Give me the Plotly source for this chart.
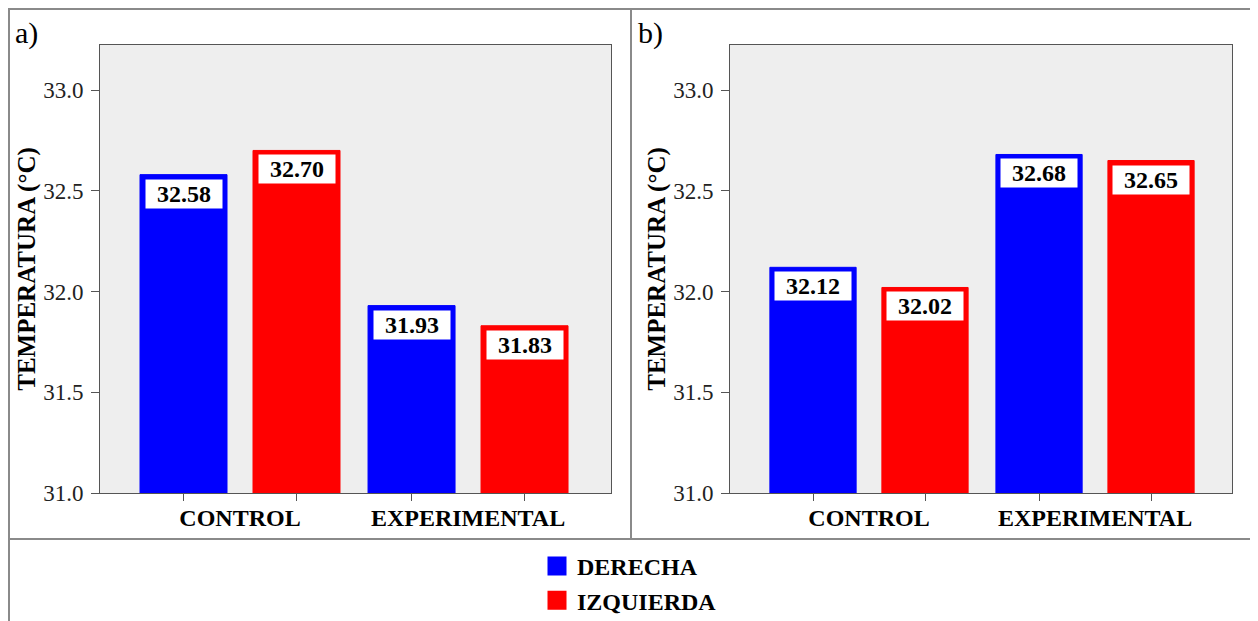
import plotly.graph_objects as go

# ---------------- data ----------------
categories = ["CONTROL", "EXPERIMENTAL"]
series_names = ["DERECHA", "IZQUIERDA"]
series_colors = ["#0000ff", "#ff0000"]
panel_a = {"DERECHA": [32.58, 31.93], "IZQUIERDA": [32.70, 31.83]}
panel_b = {"DERECHA": [32.12, 32.68], "IZQUIERDA": [32.02, 32.65]}
panel_letters = ["a)", "b)"]
y_ticks = [31.0, 31.5, 32.0, 32.5, 33.0]
y_title = "TEMPERATURA (°C)"

# page body has an 8px margin: design in window pixels, shift by OFF
OFF = 8
W, H = 1258 - OFF, 660
FONT = "Liberation Serif"
BARGAP = 0.009
BARGROUPGAP = 0.23

def px_x(p):
    return (p - OFF) / W

def px_y(p):
    return 1 - (p - OFF) / H

fig = go.Figure()

panels = [panel_a, panel_b]
xaxes = ["x", "x2"]
yaxes = ["y", "y2"]
group_pos = list(range(len(categories)))
offsets = [(-0.5 + (i + 0.5) / len(series_names)) * (1 - BARGAP) for i in range(len(series_names))]

annotations = []
for pi, data in enumerate(panels):
    for si, name in enumerate(series_names):
        fig.add_trace(go.Bar(
            x=group_pos, y=data[name], name=name,
            marker=dict(color=series_colors[si], line=dict(color=series_colors[si], width=1)),
            xaxis=xaxes[pi], yaxis=yaxes[pi], showlegend=False,
            offsetgroup=str(si),
        ))
        for gi, v in enumerate(data[name]):
            annotations.append(dict(
                x=group_pos[gi] + offsets[si], y=v, xref=xaxes[pi], yref=yaxes[pi],
                text="<b>%.2f</b>" % v, showarrow=False, yanchor="top", yshift=-4,
                bgcolor="white", width=76, height=28, borderpad=0,
                font=dict(family=FONT, size=24, color="black"),
            ))

# legend entries (large squares)
for si, name in enumerate(series_names):
    fig.add_trace(go.Scatter(
        x=[None], y=[None], mode="markers", name="<b>%s</b>" % name,
        marker=dict(symbol="square", size=16, color=series_colors[si],
                    line=dict(color=series_colors[si], width=3)),
        legendgroup=name, showlegend=True, xaxis="x", yaxis="y",
    ))

bar_centers = [g + o for g in group_pos for o in offsets]

y_dom = [px_y(493), px_y(45)]
x_ranges = [[-0.614, 1.627], [-0.615, 1.606]]
x_doms = [[px_x(100), px_x(611)], [px_x(730), px_x(1232)]]

common_x = dict(
    tickmode="array", tickvals=group_pos, ticktext=["<b>%s</b>" % c for c in categories],
    ticks="", showline=True, linecolor="#555", linewidth=1, mirror=True,
    showgrid=False, zeroline=False, ticklabelstandoff=3, automargin=False,
    tickfont=dict(family=FONT, size=24, color="black"),
    minor=dict(tickmode="array", tickvals=bar_centers, ticks="outside", ticklen=7,
               tickcolor="#555", tickwidth=1, showgrid=False),
)
common_y = dict(
    range=[31, 31 + (493 - 45) / 201.5], tickmode="array", tickvals=y_ticks,
    tickformat=".1f", ticks="outside", ticklen=8, tickcolor="#555",
    showline=True, linecolor="#555", linewidth=1, mirror=True,
    showgrid=False, zeroline=False, ticklabelstandoff=3, automargin=False,
    tickfont=dict(family=FONT, size=23, color="#222"),
    title=dict(text="<b>%s</b>" % y_title, font=dict(family=FONT, size=25, color="black"), standoff=0),
    domain=y_dom,
)

fig.update_layout(
    xaxis=dict(common_x, domain=x_doms[0], range=x_ranges[0], anchor="y"),
    xaxis2=dict(common_x, domain=x_doms[1], range=x_ranges[1], anchor="y2"),
    yaxis=dict(common_y, anchor="x"),
    yaxis2=dict(common_y, anchor="x2"),
)

for i, letter in enumerate(panel_letters):
    annotations.append(dict(
        x=px_x([13, 636][i]), y=px_y(33), xref="paper", yref="paper",
        text=letter, showarrow=False, xanchor="left", yanchor="middle",
        font=dict(family=FONT, size=30, color="black"),
    ))

frame = "#8a8a8a"
shapes = [
    dict(type="rect", xref="paper", yref="paper", x0=px_x(9), x1=px_x(1253), y0=px_y(640), y1=px_y(9),
         line=dict(color=frame, width=2)),
    dict(type="line", xref="paper", yref="paper", x0=px_x(631), x1=px_x(631), y0=px_y(539), y1=px_y(9),
         line=dict(color=frame, width=2)),
    dict(type="line", xref="paper", yref="paper", x0=px_x(9), x1=px_x(1253), y0=px_y(539), y1=px_y(539),
         line=dict(color=frame, width=2)),
]

fig.update_layout(
    width=W, height=H,
    margin=dict(l=0, r=0, t=0, b=0),
    paper_bgcolor="white", plot_bgcolor="#eeeeee",
    barmode="group", bargap=BARGAP, bargroupgap=BARGROUPGAP,
    font=dict(family=FONT, color="black"),
    annotations=annotations, shapes=shapes,
    legend=dict(x=px_x(537), y=px_y(544), xanchor="left", yanchor="top",
                font=dict(family=FONT, size=24, color="black"),
                traceorder="grouped", tracegroupgap=0, bgcolor="rgba(0,0,0,0)",
                itemsizing="trace"),
)

fig.write_html("out.html")
